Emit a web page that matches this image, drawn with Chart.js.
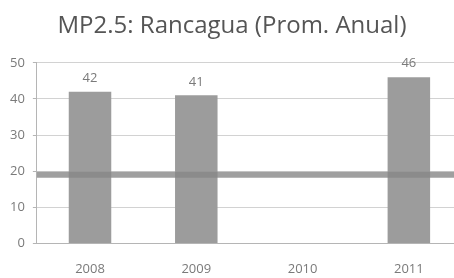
<!DOCTYPE html>
<html>
<head>
<meta charset="utf-8">
<script src="https://cdn.jsdelivr.net/npm/chart.js@4/dist/chart.umd.min.js"></script>
<style>
  html, body { margin: 0; padding: 0; background: #fff; overflow: hidden; }
  #wrap { width: 462px; height: 278px; }
</style>
</head>
<body>
<div id="wrap"><canvas id="chart" width="462" height="278"></canvas></div>
<script>
const years = ['2008', '2009', '2010', '2011'];
const promAnual = [42, 41, null, 46];
const normaLimite = [19];
const yTicks = [0, 10, 20, 30, 40, 50];

// etiquetas encima de cada barra
const barLabels = {
    id: 'barLabels',
    afterDatasetsDraw(chart) {
        const ctx = chart.ctx;
        const meta = chart.getDatasetMeta(0);
        ctx.save();
        ctx.font = '13px "Open Sans", sans-serif';
        ctx.fillStyle = '#7a7a7a';
        ctx.textAlign = 'center';
        ctx.textBaseline = 'bottom';
        meta.data.forEach((bar, i) => {
            if (promAnual[i] == null) return;
            ctx.fillText(String(promAnual[i]), bar.x, bar.y - 7);
        });
        ctx.restore();
    }
};

// linea de norma anual
const normaLine = {
    id: 'normaLine',
    afterDatasetsDraw(chart) {
        const ctx = chart.ctx;
        const area = chart.chartArea;
        const y = chart.scales.y.getPixelForValue(normaLimite[0]);
        ctx.save();
        ctx.strokeStyle = 'rgba(135,135,135,0.8)';
        ctx.lineWidth = 6;
        ctx.beginPath();
        ctx.moveTo(area.left, y);
        ctx.lineTo(area.right, y);
        ctx.stroke();
        ctx.restore();
    }
};

new Chart(document.getElementById('chart'), {
    type: 'bar',
    data: {
        labels: years,
        datasets: [{
            data: promAnual,
            backgroundColor: '#9c9c9c',
            borderWidth: 0,
            barPercentage: 0.4,
            categoryPercentage: 1
        }]
    },
    options: {
        responsive: false,
        animation: false,
        layout: { padding: { left: 2, right: 0, top: 0, bottom: -17 } },
        plugins: {
            legend: { display: false },
            tooltip: { enabled: false },
            title: {
                display: true,
                text: 'MP2.5: Rancagua (Prom. Anual)',
                color: '#555555',
                font: { family: '"Open Sans", sans-serif', size: 24, weight: 'normal' },
                padding: { top: 12, bottom: 22 }
            }
        },
        scales: {
            x: {
                grid: { display: false, drawTicks: false },
                border: { color: '#b5b5b5' },
                ticks: {
                    color: '#7a7a7a',
                    font: { family: '"Open Sans", sans-serif', size: 13 },
                    padding: 18
                }
            },
            y: {
                min: 0,
                max: 50,
                afterBuildTicks(scale) {
                    scale.ticks = yTicks.map(v => ({ value: v }));
                },
                grid: {
                    color: '#d2d2d2',
                    tickLength: 4,
                    tickColor: '#b5b5b5'
                },
                border: { color: '#b5b5b5', dash: [] },
                ticks: {
                    color: '#7a7a7a',
                    font: { family: '"Open Sans", sans-serif', size: 13 },
                    padding: 8
                }
            }
        }
    },
    plugins: [barLabels, normaLine]
});
</script>
</body>
</html>
